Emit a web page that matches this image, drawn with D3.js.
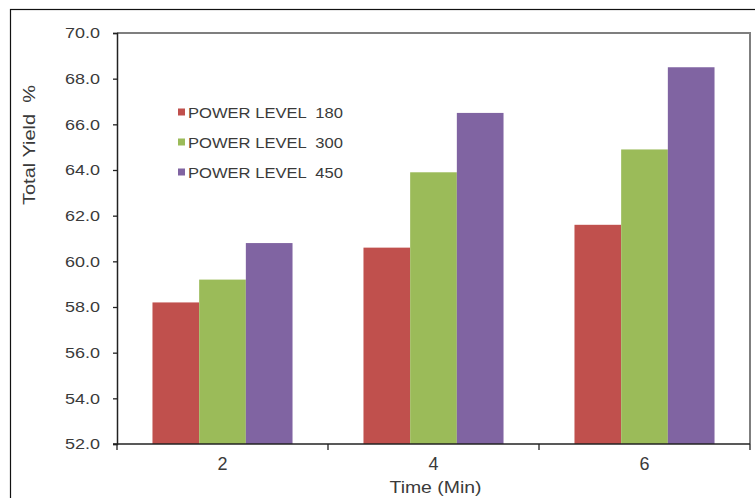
<!DOCTYPE html>
<html>
<head>
<meta charset="utf-8">
<script src="https://cdn.jsdelivr.net/npm/d3@7"></script>
<style>
  html, body { margin: 0; padding: 0; background: #fff; }
  svg { display: block; }
  text { font-family: Arial, "Liberation Sans", sans-serif; fill: #3a3a3a; white-space: pre; }
</style>
</head>
<body>
<svg id="chart" width="755" height="498"></svg>
<script>
// Time categories (minutes)
const categories = ["2", "4", "6"];
// Series names shown in the legend
const seriesNames = ["POWER LEVEL  180", "POWER LEVEL  300", "POWER LEVEL  450"];
// Total yield (%) per power level, one value per time category
const power180 = [58.2, 60.6, 61.6];
const power300 = [59.2, 63.9, 64.9];
const power450 = [60.8, 66.5, 68.5];
const seriesValues = [power180, power300, power450];
const seriesColors = ["#C0504D", "#9BBB59", "#8064A2"];
// Y axis tick values
const yTicks = [52, 54, 56, 58, 60, 62, 64, 66, 68, 70];

const svg = d3.select("#chart");

const plot = { left: 117, top: 33, right: 750, bottom: 444 };

// outer frame
svg.append("rect")
  .attr("x", 10.5).attr("y", 9.5)
  .attr("width", 770).attr("height", 520)
  .attr("fill", "none").attr("stroke", "#111").attr("stroke-width", 1.2);

const y = d3.scaleLinear().domain([52, 70]).range([plot.bottom, plot.top]);
const x = d3.scaleBand().domain(categories).range([plot.left, plot.right]).paddingInner(0).paddingOuter(0);
const x1 = d3.scaleBand().domain(d3.range(seriesNames.length))
  .range([0, x.bandwidth()]).paddingInner(0).paddingOuter(0.76);

// plot area border (top and right)
svg.append("path")
  .attr("d", `M${plot.left},${plot.top}H${plot.right}V${plot.bottom}`)
  .attr("fill", "none").attr("stroke", "#7f7f7f").attr("stroke-width", 2);

// bars
const groups = svg.append("g").selectAll("g")
  .data(categories)
  .join("g")
  .attr("transform", d => `translate(${x(d)},0)`);

groups.selectAll("rect")
  .data((d, i) => seriesValues.map((vals, s) => ({ s, v: vals[i] })))
  .join("rect")
  .attr("x", d => x1(d.s))
  .attr("width", x1.bandwidth())
  .attr("y", d => y(d.v))
  .attr("height", d => y(52) - y(d.v))
  .attr("fill", d => seriesColors[d.s]);

// y axis
const yAxis = svg.append("g")
  .attr("transform", `translate(${plot.left},0)`)
  .call(d3.axisLeft(y).tickValues(yTicks).tickFormat(d3.format(".1f")).tickSize(4).tickPadding(13));
yAxis.select(".domain").attr("stroke", "#222").attr("stroke-width", 1.5);
yAxis.selectAll(".tick line").attr("stroke", "#222").attr("stroke-width", 1.3);
yAxis.selectAll(".tick text")
  .style("font-size", "15px")
  .attr("fill", "#3a3a3a")
  .attr("textLength", 35).attr("lengthAdjust", "spacingAndGlyphs");

// x axis line and category boundary ticks
svg.append("line")
  .attr("x1", plot.left - 4).attr("x2", plot.right)
  .attr("y1", plot.bottom).attr("y2", plot.bottom)
  .attr("stroke", "#222").attr("stroke-width", 1.5);
const bounds = categories.map(c => x(c)).concat([x(categories[categories.length - 1]) + x.step()]);
svg.append("g").selectAll("line")
  .data(bounds)
  .join("line")
  .attr("x1", d => d).attr("x2", d => d)
  .attr("y1", plot.bottom).attr("y2", plot.bottom + 6)
  .attr("stroke", "#222").attr("stroke-width", 1.3);

// x labels
svg.append("g").selectAll("text")
  .data(categories)
  .join("text")
  .attr("x", d => x(d) + x.bandwidth() / 2)
  .attr("y", plot.bottom + 26)
  .attr("text-anchor", "middle")
  .style("font-size", "18px")
  .text(d => d);

// axis titles
svg.append("text")
  .attr("x", (plot.left + plot.right) / 2 + 2)
  .attr("y", 493)
  .attr("text-anchor", "middle")
  .style("font-size", "16px")
  .attr("textLength", 92).attr("lengthAdjust", "spacingAndGlyphs")
  .text("Time (Min)");

svg.append("text")
  .attr("transform", "translate(35,145) rotate(-90)")
  .attr("text-anchor", "middle")
  .style("font-size", "17px")
  .attr("textLength", 120).attr("lengthAdjust", "spacingAndGlyphs")
  .text("Total Yield  %");

// legend
const legend = svg.append("g").selectAll("g")
  .data(seriesNames)
  .join("g")
  .attr("transform", (d, i) => `translate(178,${112 + i * 30})`);
legend.append("rect")
  .attr("x", 0).attr("y", -3.5)
  .attr("width", 7).attr("height", 7)
  .attr("fill", (d, i) => seriesColors[i]);
legend.append("text")
  .attr("x", 10).attr("y", 5.5)
  .style("font-size", "15px")
  .attr("textLength", 155).attr("lengthAdjust", "spacingAndGlyphs")
  .text(d => d);
</script>
</body>
</html>
